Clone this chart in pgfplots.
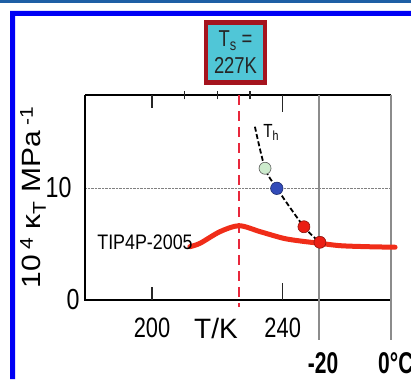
\documentclass[border=0pt]{standalone}
\usepackage{fontspec}
\setmainfont{Liberation Sans}
\usepackage{graphicx}
\usepackage{pgfplots}
\pgfplotsset{compat=1.18}

\definecolor{framebar}{RGB}{30,95,165}
\definecolor{frameblue}{RGB}{0,0,245}
\definecolor{curvered}{RGB}{240,45,25}
\definecolor{tsred}{RGB}{232,40,60}
\definecolor{boxfill}{RGB}{80,198,215}
\definecolor{boxedge}{RGB}{165,20,30}
\definecolor{ptgreen}{RGB}{205,235,205}
\definecolor{ptblue}{RGB}{50,75,185}
\definecolor{ptred}{RGB}{235,30,20}
\definecolor{vgray}{RGB}{140,140,140}

% horizontally narrowed text
\newcommand{\nar}[2]{\scalebox{#1}[1]{#2}}

\begin{document}
\begin{tikzpicture}[x=1pt,y=1pt]
\path[use as bounding box] (0,0) rectangle (411,379);
% page frame
\fill[framebar] (0,376) rectangle (411,379);
\fill[frameblue] (10,0) -- (10,368) -- (411,368) -- (411,363) -- (15,363) -- (15,0) -- cycle;

\begin{axis}[
  at={(85pt,79pt)}, anchor=south west,
  scale only axis, width=306pt, height=205pt,
  xmin=179.5, xmax=273.15, ymin=0, ymax=18.3,
  clip=false,
  axis line style={draw=none},
  xtick={200,240},
  xticklabels={\nar{0.78}{200},\nar{0.78}{240}},
  xticklabel style={anchor=center, yshift=-27.5pt, font=\fontsize{28}{28}\selectfont},
  xtick style={draw=none},
  ytick={0,10},
  yticklabels={\nar{0.8}{0}\hspace*{-8pt},\nar{0.8}{10}},
  yticklabel style={anchor=east, xshift=-10pt, font=\fontsize{29}{29}\selectfont},
  ytick style={draw=none},
  ymajorgrids,
  grid style={densely dotted, gray, line width=0.8pt},
  xlabel={T/K},
  x label style={at={(axis description cs:0.428,0)}, anchor=center, yshift=-28pt, font=\fontsize{28}{28}\selectfont},
  ylabel={\scalebox{1}[0.88]{10\,\textsuperscript{4} κ\textsubscript{T} MPa\,\textsuperscript{-1}}},
  y label style={at={(axis description cs:-0.170,0.50)}, anchor=center, font=\fontsize{30}{30}\selectfont},
  tickmark/.style={black!85, line width=1.3pt, forget plot},
]
% frame: black left, bottom and top; grey temperature lines on the right
\draw[line width=1.6pt] (rel axis cs:0,1) -- (rel axis cs:0,0) -- (rel axis cs:1,0);
\draw[line width=1.6pt] (rel axis cs:0,1) -- (rel axis cs:1,1);
\draw[vgray, line width=1.1pt] (axis cs:251.1,18.3) -- (axis cs:251.1,-3.6);
\draw[vgray, line width=1.1pt] (axis cs:273.15,18.3) -- (axis cs:273.15,-3.6);

% major ticks, inward on top and bottom
\addplot[tickmark] coordinates {(200,0) (200,1.15)};
\addplot[tickmark] coordinates {(240,0) (240,1.5)};
\addplot[tickmark] coordinates {(200,18.3) (200,17.15)};
\addplot[tickmark] coordinates {(240,18.3) (240,16.8)};
% minor ticks across the top edge
\addplot[tickmark] coordinates {(210,17.9) (210,18.7)};
\addplot[tickmark] coordinates {(220,17.9) (220,18.7)};
\addplot[tickmark] coordinates {(230,17.9) (230,18.7)};

% singularity temperature T_s
\addplot[tsred, line width=2.5pt, dash pattern=on 10pt off 6pt] coordinates {(226.7,18.3) (226.7,-0.6)};

% TIP4P-2005 compressibility
\addplot[curvered, line width=5pt, smooth, line cap=round] coordinates {
  (211.6,4.76) (214.7,5.06) (220.8,6.10) (226.7,6.63) (233.1,6.10)
  (240.2,5.51) (245.3,5.27) (251.4,5.06) (257.5,4.85) (265.7,4.76) (274.4,4.71)};

% homogeneous nucleation line T_h
\addplot[black, line width=1.8pt, dash pattern=on 5pt off 2.5pt, smooth] coordinates {
  (231.5,15.47) (234.6,11.76) (238.2,9.97) (246.5,6.54) (251.4,5.15)};

% experimental points
\addplot[only marks, mark=*, mark size=6pt, mark options={fill=ptgreen, draw=gray!70!black, line width=0.6pt}] coordinates {(234.6,11.76)};
\addplot[only marks, mark=*, mark size=6.2pt, mark options={fill=ptblue, draw=ptblue!60!black, line width=0.6pt}] coordinates {(238.2,9.97)};
\addplot[only marks, mark=*, mark size=6pt, mark options={fill=ptred, draw=ptred!60!black, line width=0.6pt}] coordinates {(246.5,6.54) (251.4,5.15)};

\node[anchor=east, inner sep=0pt, font=\fontsize{21}{21}\selectfont] at (axis cs:212.5,5.18) {\nar{0.85}{TIP4P-2005}};
\node[anchor=base west, inner sep=0pt, font=\fontsize{19}{19}\selectfont] at (axis cs:234.0,14.55) {\nar{0.8}{T\textsubscript{h}}};
\end{axis}

% T_s label box
\node[draw=boxedge, fill=boxfill, line width=4.5pt, minimum width=59pt, minimum height=60pt,
      inner sep=0pt, align=center, font=\fontsize{23}{27}\selectfont, text=black!85]
  at (235.5,326.5) {\nar{0.8}{T\textsubscript{s} =}\\\nar{0.8}{227K}};

% Celsius scale
\node[font=\bfseries\fontsize{30}{30}\selectfont, inner sep=0pt] at (323,15.5) {\nar{0.7}{-20}};
\node[font=\bfseries\fontsize{30}{30}\selectfont, inner sep=0pt, anchor=west] at (378,15.5) {\nar{0.7}{0°C}};
\end{tikzpicture}
\end{document}
